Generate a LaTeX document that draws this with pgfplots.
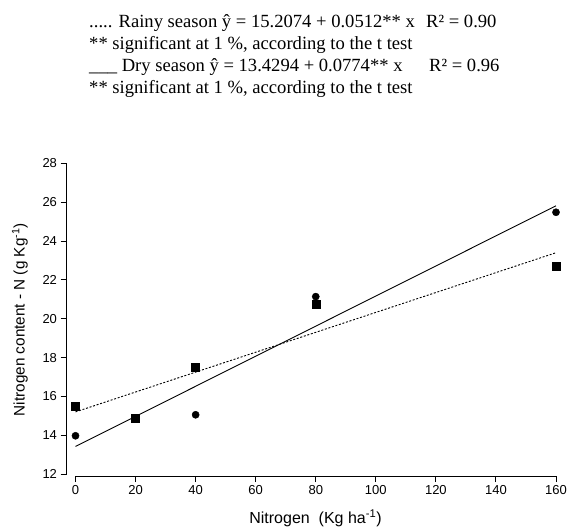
\documentclass[border=0pt]{standalone}
\usepackage{fontspec}
\setmainfont{Liberation Sans}
\newfontfamily\tnr{Liberation Serif}
\usepackage{pgfplots}
\pgfplotsset{compat=1.18}
\begin{document}
\begin{tikzpicture}
\useasboundingbox (0,0) rectangle (568pt,530pt);
\begin{axis}[
  at={(66.5pt,53.8pt)}, anchor=south west,
  scale only axis, width=489.5pt, height=312.9pt,
  xmin=-3, xmax=160, ymin=11.9, ymax=28,
  axis x line*=bottom, axis y line*=left,
  x axis line style={-, shorten <=9pt},
  y axis line style={-, shorten <=1.94pt},
  axis line style={line width=0.9pt},
  xtick={0,20,...,160}, ytick={12,14,...,28},
  tick align=outside, major tick length=6pt,
  every tick/.style={black, line width=0.9pt},
  tick label style={font=\fontsize{13}{15}\selectfont},
  /pgf/number format/assume math mode=true,
  xlabel={Nitrogen\ \ (Kg ha\textsuperscript{-1})},
  ylabel={Nitrogen content - N (g Kg\textsuperscript{-1})},
  xlabel style={font=\fontsize{16}{18}\selectfont, at={(axis description cs:0.5087,-0.152)}, anchor=base},
  ylabel style={font=\fontsize{15.3}{18}\selectfont, at={(axis description cs:-0.095,0.5)}, anchor=center},
  clip=false,
]
% regression lines
\addplot[black, line width=0.9pt] coordinates {(0,13.4294) (160,25.8134)};
\addplot[black, line width=0.9pt, dash pattern=on 2pt off 1.7pt] coordinates {(0,15.2074) (160,23.3994)};
% dry season (circles)
\addplot[only marks, mark=*, mark size=3.6pt, black] coordinates {
  (0,13.98) (20,14.85) (40,15.06) (80,21.14) (160,25.48)};
% rainy season (squares)
\addplot[only marks, mark=square*, mark size=4pt, black] coordinates {
  (0,15.49) (20,14.89) (40,17.5) (80,20.76) (160,22.73)};
\end{axis}
\begin{scope}[every node/.style={inner sep=0pt, anchor=base west, font=\tnr\fontsize{18.6}{21}\selectfont}]
\node at (89pt,502.7pt) {..... Rainy season ŷ = 15.2074 + 0.0512** x};
\node at (426pt,502.7pt) {R² = 0.90};
\node at (89pt,480.7pt) {** significant at 1 \%, according to the t test};
\node at (89pt,458.3pt) {\_\_\_\ Dry season ŷ = 13.4294 + 0.0774** x};
\node at (429pt,458.3pt) {R² = 0.96};
\node at (89pt,436pt) {** significant at 1 \%, according to the t test};
\end{scope}
\end{tikzpicture}
\end{document}
